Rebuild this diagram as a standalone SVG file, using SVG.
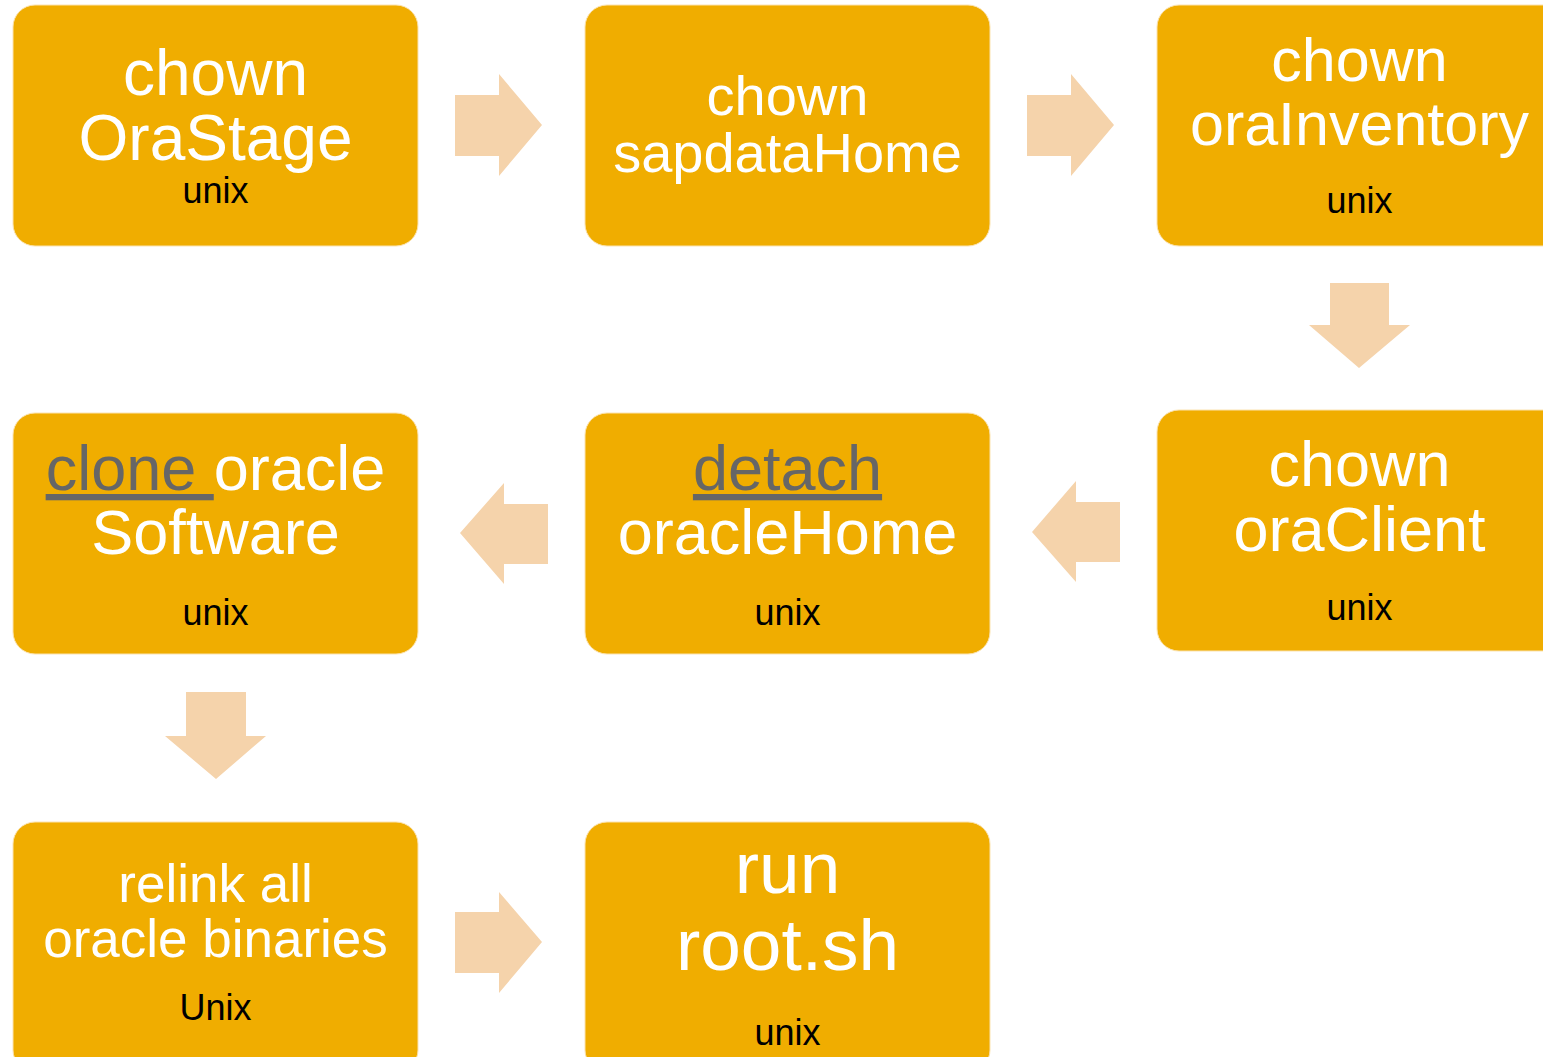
<svg xmlns="http://www.w3.org/2000/svg" width="1543" height="1057" viewBox="0 0 1543 1057">
<style>
.box{fill:#F0AD00;stroke:#FBE3B0;stroke-width:1}
.arr{fill:#F5D3AB}
.t{font-family:"Liberation Sans",Arial,sans-serif;fill:#FFFFFF;text-anchor:middle}
.u{font-family:"Liberation Sans",Arial,sans-serif;fill:#000000;text-anchor:middle;font-size:36px}
.g{fill:#666666;text-decoration:underline}
</style>
<rect width="1543" height="1057" fill="#FFFFFF"/>
<g id="connectors">
<polygon class="arr" points="455,95 499,95 499,74 542,125 499,176 499,156 455,156"/>
<polygon class="arr" points="1027,95 1071,95 1071,74 1114,125 1071,176 1071,156 1027,156"/>
<polygon class="arr" points="1330,283 1389,283 1389,325 1410,325 1359,368 1309,325 1330,325"/>
<polygon class="arr" points="1120,502 1076,502 1076,481 1032,532 1076,582 1076,562 1120,562"/>
<polygon class="arr" points="548,504 504,504 504,483 460,533 504,584 504,564 548,564"/>
<polygon class="arr" points="186,692 246,692 246,736 266,736 216,779 165,736 186,736"/>
<polygon class="arr" points="455,912 499,912 499,892 542,942 499,993 499,973 455,973"/>
</g>
<g id="n1">
<rect class="box" x="13" y="5" width="405" height="241" rx="22"/>
<text class="t" x="215.5" y="95" font-size="64">chown</text>
<text class="t" x="215.5" y="160" font-size="64">OraStage</text>
<text class="u" x="215.5" y="203">unix</text>
</g>
<g id="n2">
<rect class="box" x="585" y="5" width="405" height="241" rx="22"/>
<text class="t" x="787.5" y="115" font-size="56">chown</text>
<text class="t" x="787.5" y="172" font-size="56">sapdataHome</text>
</g>
<g id="n3">
<rect class="box" x="1157" y="5" width="410" height="241" rx="22"/>
<text class="t" x="1359.5" y="81" font-size="61">chown</text>
<text class="t" x="1359.5" y="145" font-size="61">oraInventory</text>
<text class="u" x="1359.5" y="213">unix</text>
</g>
<g id="n4">
<rect class="box" x="1157" y="410" width="410" height="241" rx="22"/>
<text class="t" x="1359.5" y="486" font-size="63">chown</text>
<text class="t" x="1359.5" y="551" font-size="63">oraClient</text>
<text class="u" x="1359.5" y="620">unix</text>
</g>
<g id="n5">
<rect class="box" x="585" y="413" width="405" height="241" rx="22"/>
<text class="t" x="787.5" y="490" font-size="63"><tspan class="g">detach</tspan></text>
<text class="t" x="787.5" y="554" font-size="63">oracleHome</text>
<text class="u" x="787.5" y="625">unix</text>
</g>
<g id="n6">
<rect class="box" x="13" y="413" width="405" height="241" rx="22"/>
<text class="t" x="215.5" y="490" font-size="63"><tspan class="g">clone </tspan>oracle</text>
<text class="t" x="215.5" y="554" font-size="63">Software</text>
<text class="u" x="215.5" y="625">unix</text>
</g>
<g id="n7">
<rect class="box" x="13" y="822" width="405" height="250" rx="22"/>
<text class="t" x="215.5" y="902" font-size="53">relink all</text>
<text class="t" x="215.5" y="957" font-size="53">oracle binaries</text>
<text class="u" x="215.5" y="1020">Unix</text>
</g>
<g id="n8">
<rect class="box" x="585" y="822" width="405" height="250" rx="22"/>
<text class="t" x="787.5" y="893" font-size="73">run</text>
<text class="t" x="787.5" y="970" font-size="73">root.sh</text>
<text class="u" x="787.5" y="1045">unix</text>
</g>
</svg>
